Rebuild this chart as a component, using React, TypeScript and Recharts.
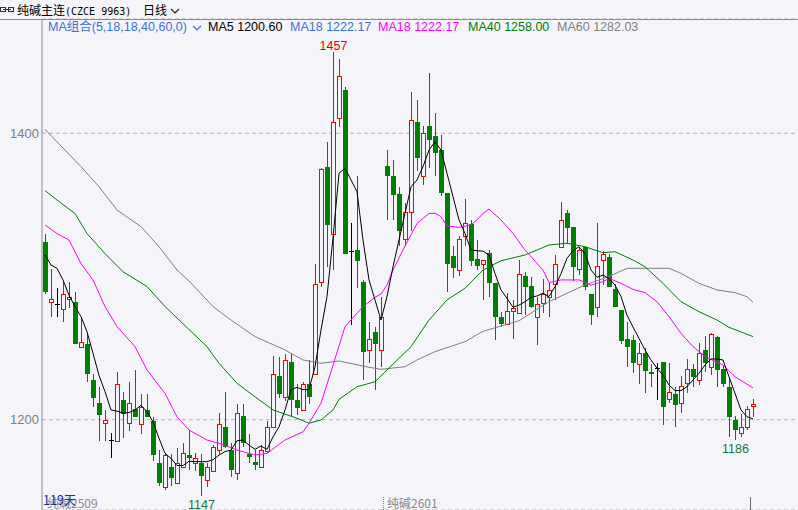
import React from 'react';
import { ComposedChart, Bar, Line, XAxis, YAxis, CartesianGrid } from 'recharts';

// daily candles, oldest first (contract rolls from 2509 to 2601 at index 57)
const OPEN = [
  1324, 1282, 1281, 1277, 1284, 1282, 1251, 1253, 1228, 1212,
  1198, 1186, 1185, 1214, 1198, 1207.5, 1197, 1207, 1199, 1170,
  1153, 1167, 1156, 1167, 1175, 1170, 1170, 1158, 1164, 1179,
  1195, 1179, 1163, 1202.6, 1176, 1170.5, 1167, 1178, 1195, 1230.5,
  1215.6, 1240, 1214, 1207, 1225, 1232, 1296, 1376.7, 1330, 1411,
  1430, 1318, 1318.5, 1296, 1249, 1261, 1249, 1377, 1370, 1357.6,
  1326, 1345, 1407.7, 1370, 1405, 1398, 1388, 1358.5, 1314, 1304.5,
  1328, 1336.7, 1312, 1308.5, 1316.6, 1295.7, 1272, 1267, 1276, 1274.7,
  1300.3, 1293.4, 1271.5, 1281.3, 1285.5, 1294.8, 1320.4, 1344, 1334.4, 1305,
  1320.4, 1287.8, 1278.5, 1311.5, 1313.4, 1291, 1276.6, 1256, 1255.7, 1238.9,
  1246.8, 1233, 1235.9, 1240, 1214.2, 1218, 1211.5, 1225.4, 1235.2, 1227.7,
  1248.7, 1236.6, 1258, 1235.2, 1223, 1199.8, 1190.5, 1194.7, 1209.6,
];
const HIGH = [
  1330, 1305, 1292, 1296, 1296, 1289, 1272, 1260, 1232, 1223,
  1207, 1190.5, 1233, 1219, 1226, 1234.5, 1218, 1218, 1202, 1179,
  1177, 1176, 1180, 1184, 1193, 1177, 1176, 1170, 1182, 1205,
  1219, 1184, 1211, 1211, 1190, 1179, 1182, 1199, 1244.5, 1244,
  1246, 1246, 1225, 1226.5, 1241.7, 1309, 1376, 1393.7, 1457, 1452,
  1432.6, 1337, 1370, 1297.5, 1268.4, 1265, 1286, 1388, 1381, 1362.7,
  1351, 1428.6, 1423, 1405, 1442, 1414, 1399, 1358.5, 1321, 1328,
  1354, 1339.5, 1325.5, 1311.5, 1318.5, 1295.7, 1275.4, 1288.7, 1283.6, 1311.5,
  1303, 1299.4, 1286, 1298, 1295.7, 1315, 1352, 1346.4, 1334.4, 1320.4,
  1320.4, 1287.8, 1337, 1318, 1315.7, 1294.8, 1276.6, 1268.4, 1259, 1253.4,
  1249.9, 1238.9, 1239.8, 1240, 1239.4, 1223, 1230.5, 1242.2, 1238.9, 1253.4,
  1258.4, 1260.8, 1258.4, 1237.5, 1230, 1202.6, 1204, 1209.6, 1214.2,
];
const LOW = [
  1288, 1272, 1272, 1268, 1278, 1253, 1251, 1226, 1209, 1185,
  1185, 1173, 1185, 1187, 1192, 1202, 1190, 1202, 1171, 1154,
  1151, 1154, 1156, 1167, 1165, 1164, 1147, 1153, 1164, 1176,
  1180, 1160, 1158, 1181, 1170, 1165, 1167, 1176.5, 1195, 1215,
  1213, 1202, 1203, 1207, 1211, 1232, 1292.5, 1306.6, 1304.5, 1404.6,
  1316, 1266, 1292, 1228, 1239.4, 1221, 1237, 1339.5, 1339.5, 1321,
  1321, 1332, 1374, 1364, 1375.5, 1370, 1356, 1289, 1299, 1300,
  1321, 1307, 1304.5, 1283.6, 1285.5, 1255.7, 1265, 1267, 1256, 1274.7,
  1273, 1277.8, 1252, 1274.7, 1271.5, 1283.6, 1320, 1323, 1297, 1301,
  1290.6, 1266, 1271.5, 1294, 1292.9, 1278.5, 1253, 1237, 1232.8, 1225,
  1218.4, 1223, 1213.8, 1196.3, 1211.9, 1194.7, 1204.9, 1218.4, 1223, 1224.2,
  1233.5, 1231.2, 1223, 1222.6, 1188, 1186, 1188.1, 1192.8, 1201.7,
];
const CLOSE = [
  1289, 1284, 1281, 1288, 1286, 1253, 1254, 1232, 1215, 1203.5,
  1200, 1186, 1225, 1204, 1212, 1202, 1209, 1202, 1175, 1156,
  1175, 1159.5, 1170, 1176.5, 1173, 1173.5, 1161, 1167, 1181, 1197,
  1181, 1165, 1205, 1183.5, 1174, 1168.6, 1179, 1195, 1232, 1218,
  1241.7, 1214, 1208, 1225, 1216, 1295, 1375, 1336, 1408, 1440,
  1316, 1318, 1311, 1247, 1256, 1253, 1271.5, 1370, 1357, 1332,
  1345, 1409, 1383, 1400, 1395, 1386, 1358, 1309, 1306, 1326,
  1337, 1311, 1307, 1311.5, 1295.7, 1271.5, 1267, 1276, 1277.8, 1302,
  1293, 1278.5, 1281, 1287.8, 1290.6, 1308.7, 1339.5, 1334, 1306.4, 1318.5,
  1292.9, 1273, 1307.3, 1315.7, 1292.9, 1278.5, 1255, 1250.6, 1239.8, 1246.8,
  1234.2, 1232, 1235.9, 1209, 1219.1, 1210.3, 1223.5, 1235.2, 1229.6, 1246.4,
  1239.4, 1259.8, 1234.7, 1225, 1202, 1192.8, 1195.1, 1207.3, 1211,
];

// moving averages
const MA5 = [
  1315, 1308, 1305.7, 1297.6, 1287, 1279, 1272, 1261.5, 1246.4, 1231,
  1219.6, 1206.8, 1206, 1204.5, 1205, 1206.8, 1210, 1205.6, 1198.6, 1187,
  1176.5, 1173, 1168, 1168, 1171, 1170.7, 1170.7, 1170.7, 1172, 1175.3,
  1177.7, 1178.8, 1185.3, 1185.8, 1182.3, 1179.3, 1181.6, 1179.3, 1188, 1195,
  1206.8, 1221, 1222.6, 1221, 1221, 1237, 1262.6, 1286, 1327, 1372,
  1375.6, 1367.4, 1359.2, 1325.5, 1297.6, 1283.6, 1269.6, 1286, 1306.8, 1325.5,
  1344, 1362.7, 1367.4, 1376.7, 1388.3, 1394, 1388.3, 1372, 1355.7, 1339.5,
  1330, 1318.5, 1318, 1317.7, 1315, 1302, 1290.6, 1284.8, 1278.5, 1280,
  1282.4, 1285.5, 1286.4, 1288.3, 1286, 1292.9, 1302, 1312.7, 1318, 1320.8,
  1316, 1304.5, 1299.4, 1301, 1298.7, 1294, 1286, 1273, 1264.7, 1256.8,
  1248.7, 1241.7, 1235.9, 1231.2, 1224.2, 1220.3, 1220.3, 1223, 1227.7, 1232.4,
  1238.2, 1242.4, 1242.4, 1241.7, 1230, 1218.4, 1206.8, 1202.1, 1200.6,
];
// [candle index, value]
const MA18_PTS = [
  [0, 1336], [2, 1330], [4, 1325.5], [6, 1309], [8, 1297.6], [10, 1279], [12, 1265], [15, 1251],
  [17, 1234.7], [20, 1218.4], [22, 1202], [24, 1192.8], [27, 1185.8], [29, 1183.5], [32, 1178.8],
  [35, 1175.3], [37, 1176.5], [40, 1185.8], [43, 1191.6], [44, 1197.5], [46, 1211.5], [48, 1238],
  [49, 1251.5], [50, 1265], [53, 1279], [55, 1285.5], [56, 1287.8], [57, 1294], [58, 1304.5],
  [60, 1321.3], [62, 1337], [64, 1344], [65, 1344.2], [66, 1341.8], [67, 1335.3], [69, 1334.3],
  [71, 1336], [72, 1339.5], [73, 1344], [74, 1347], [76, 1339.5], [78, 1330], [80, 1318.5],
  [83, 1304.5], [84, 1295.7], [86, 1297.6], [89, 1297.6], [91, 1294], [93, 1296.4], [94, 1298.7],
  [96, 1295.2], [98, 1291], [100, 1288.7], [102, 1282.4], [104, 1272], [106, 1260.3], [108, 1251],
  [110, 1244], [113, 1238.2], [115, 1230], [118, 1222.17],
];
const MA40_PTS = [
  [0, 1360], [2, 1353.4], [5, 1344], [7, 1330], [10, 1316], [13, 1303.3], [17, 1293], [20, 1279],
  [24, 1263], [27, 1251], [29, 1239.4], [32, 1225.4], [35, 1216], [38, 1206.8], [42, 1201],
  [44, 1197.5], [46, 1199.8], [48, 1206.8], [49, 1214.2], [52, 1223], [55, 1226.5], [57, 1234.7],
  [61, 1251], [64, 1269.6], [67, 1283.6], [70, 1291.8], [73, 1304.5], [76, 1311], [80, 1315],
  [84, 1322], [87, 1323.2], [90, 1320.8], [93, 1316.6], [95, 1317.3], [98, 1311.5], [100, 1306.8],
  [103, 1295.2], [106, 1282.4], [109, 1275.4], [112, 1269.6], [114, 1264.5], [118, 1258],
];
const MA60_PTS = [
  [0, 1402.8], [2, 1394], [6, 1376.7], [9, 1362.7], [12, 1346.4], [16, 1334.8], [19, 1320.8],
  [22, 1304.5], [24, 1296.9], [28, 1279], [31, 1269.6], [35, 1258], [40, 1248.7], [43, 1241.7],
  [46, 1239.4], [49, 1241], [54, 1236.6], [56, 1235.2], [60, 1237], [62, 1241.7], [65, 1247.5],
  [70, 1254.5], [73, 1261.7], [79, 1269.1], [84, 1282.4], [90, 1294.1], [94, 1300], [97, 1305.7],
  [104, 1305.7], [106, 1302.2], [109, 1295.2], [112, 1290.6], [115, 1288.7], [117, 1285.9],
  [118, 1282.03],
];

const Y_TICKS = [1200, 1400];
const Y_MIN = 1136.94;
const Y_MAX = 1479.8;

// extreme labels: index, which end of the candle
const MARKS = [
  { i: 48, side: 'top' },
  { i: 26, side: 'bottom' },
  { i: 115, side: 'bottom' },
];

const LEGEND = [
  { text: 'MA5 1200.60', color: '#000000', left: 208 },
  { text: 'MA18 1222.17', color: '#3f6fe6', left: 290 },
  { text: 'MA18 1222.17', color: '#ff00ff', left: 378 },
  { text: 'MA40 1258.00', color: '#008000', left: 468 },
  { text: 'MA60 1282.03', color: '#808080', left: 557 },
];

const BG = '#f4f4f9';
const UP = '#ff0000';
const DOWN = '#008000';
const LATIN = '"Liberation Sans", "Noto Sans CJK SC", sans-serif';
const CJK = '"Noto Sans CJK SC", "Liberation Sans", sans-serif';

const rows = OPEN.map((o, i) => ({
  i,
  o,
  h: HIGH[i],
  l: LOW[i],
  c: CLOSE[i],
  range: [LOW[i], HIGH[i]],
  ma5: MA5[i],
  ma18: null as number | null,
  ma40: null as number | null,
  ma60: null as number | null,
}));
MA18_PTS.forEach(([i, v]) => (rows[i].ma18 = v));
MA40_PTS.forEach(([i, v]) => (rows[i].ma40 = v));
MA60_PTS.forEach(([i, v]) => (rows[i].ma60 = v));

const Candle = (props: any) => {
  const { x, y, width, height, payload } = props;
  if (!payload || x == null) return null;
  const { o, h, l, c, i } = payload;
  const top = Math.min(y, y + height);
  const span = Math.abs(height);
  const px = (v: number) => top + ((h - v) / (h - l || 1)) * span;
  const cx = Math.floor(x + width / 2) + 0.5;
  const yH = Math.round(px(h));
  const yL = Math.round(px(l));
  const mark = MARKS.find(m => m.i === i);
  let body: React.ReactNode;
  let color: string;
  if (c > o) {
    color = UP;
    const t = Math.round(px(c));
    const b = Math.round(px(o));
    body = (
      <rect x={cx - 2} y={t + 0.5} width={4} height={Math.max(1, b - t)} fill={BG} stroke={UP} strokeWidth={1} />
    );
  } else if (c < o) {
    color = DOWN;
    const t = Math.round(px(o));
    const b = Math.round(px(c));
    body = <rect x={cx - 2.5} y={t} width={5} height={Math.max(1, b - t)} fill={DOWN} />;
  } else {
    color = '#000000';
    const t = Math.round(px(o)) + 0.5;
    body = <line x1={cx - 2.5} x2={cx + 2.5} y1={t} y2={t} stroke="#000" strokeWidth={1} />;
  }
  return (
    <g shapeRendering="crispEdges">
      <line x1={cx} x2={cx} y1={yH} y2={yL} stroke={color} strokeWidth={1} />
      {body}
      {mark && (
        <text
          x={cx}
          y={mark.side === 'top' ? yH - 2 : yL + 12.5}
          textAnchor="middle"
          fontSize={12.5}
          fontFamily={LATIN}
          fill={mark.side === 'top' ? '#f00000' : '#0f7a45'}
          shapeRendering="auto"
        >
          {mark.side === 'top' ? h : l}
        </text>
      )}
    </g>
  );
};

const Chevron = ({ left, top, color }: { left: number; top: number; color: string }) => (
  <svg width={10} height={6} style={{ position: 'absolute', left, top }}>
    <polyline points="1,1 5,5 9,1" fill="none" stroke={color} strokeWidth={1.2} />
  </svg>
);

const App: React.FC = () => {
  return (
    <div style={{ position: 'absolute', left: 0, top: 0, width: 798, height: 510, background: BG, overflow: 'hidden' }}>
      <ComposedChart
        width={798}
        height={510}
        data={rows}
        margin={{ top: 19, right: 0, bottom: 0, left: 0 }}
        barSize={5}
      >
        <CartesianGrid vertical={false} stroke="#b4b4b4" strokeDasharray="4 3" />
        <XAxis dataKey="i" type="category" hide padding={{ left: 0, right: 42 }} />
        <YAxis
          type="number"
          width={42}
          domain={[Y_MIN, Y_MAX]}
          ticks={Y_TICKS}
          interval={0}
          allowDataOverflow
          axisLine={{ stroke: '#8c8c8c' }}
          tickLine={false}
          tickSize={0}
          tickMargin={3}
          tick={{ fill: '#7f7f7f', fontSize: 13, fontFamily: LATIN }}
        />
        <Bar dataKey="range" isAnimationActive={false} shape={(p: any) => <Candle {...p} />} />
        <Line dataKey="ma60" stroke="#808080" strokeWidth={1} dot={false} connectNulls isAnimationActive={false} />
        <Line dataKey="ma40" stroke="#008000" strokeWidth={1} dot={false} connectNulls isAnimationActive={false} />
        <Line dataKey="ma18" stroke="#ff00ff" strokeWidth={1} dot={false} connectNulls isAnimationActive={false} />
        <Line dataKey="ma5" stroke="#000000" strokeWidth={1} dot={false} isAnimationActive={false} />
      </ComposedChart>

      {/* title bar */}
      <svg width={16} height={19} style={{ position: 'absolute', left: 0, top: 0 }}>
        <rect x={0.5} y={7.5} width={5} height={4} fill="none" stroke="#333" />
        <rect x={8.5} y={7.5} width={5} height={4} fill="none" stroke="#333" />
        <line x1={3} x2={11} y1={9.5} y2={9.5} stroke="#333" />
      </svg>
      <div style={{ position: 'absolute', left: 17, top: 2, fontSize: 12, lineHeight: '16px', color: '#000', whiteSpace: 'nowrap' }}>
        <span style={{ fontFamily: CJK }}>纯碱主连</span>
        <span style={{ fontFamily: '"DejaVu Sans Mono", monospace', fontSize: 10 }}>(CZCE 9963)</span>
      </div>
      <div style={{ position: 'absolute', left: 143, top: 2, fontSize: 12, lineHeight: '16px', fontFamily: CJK, color: '#000' }}>
        日线
      </div>
      <Chevron left={170} top={8} color="#222" />
      <div style={{ position: 'absolute', left: 0, top: 19, width: 798, height: 1, background: '#8c8c8c' }} />

      {/* MA legend row */}
      <div style={{ position: 'absolute', left: 48, top: 20, fontSize: 12.5, lineHeight: '15px', fontFamily: LATIN, color: '#3f6fe6', whiteSpace: 'nowrap' }}>
        MA组合(5,18,18,40,60,0)
      </div>
      <Chevron left={192} top={25} color="#3f6fe6" />
      {LEGEND.map((d, k) => (
        <div
          key={k}
          style={{ position: 'absolute', left: d.left, top: 20, fontSize: 12.5, lineHeight: '15px', fontFamily: LATIN, color: d.color, whiteSpace: 'nowrap' }}
        >
          {d.text}
        </div>
      ))}

      {/* bottom strip: contract names and day count */}
      <div style={{ position: 'absolute', left: 47, top: 495, fontSize: 12, lineHeight: '15px', fontFamily: CJK, color: '#8a8a8a', whiteSpace: 'nowrap' }}>
        纯碱2509
      </div>
      <div style={{ position: 'absolute', left: 43, top: 492, fontSize: 12.5, lineHeight: '15px', fontFamily: CJK, color: '#1e2aa8', whiteSpace: 'nowrap' }}>
        119天
      </div>
      <svg width={4} height={14} style={{ position: 'absolute', left: 382, top: 497 }}>
        <line x1={1.5} x2={1.5} y1={0} y2={14} stroke="#888" strokeDasharray="1 1" />
      </svg>
      <div style={{ position: 'absolute', left: 387, top: 495, fontSize: 12, lineHeight: '15px', fontFamily: CJK, color: '#8a8a8a', whiteSpace: 'nowrap' }}>
        纯碱2601
      </div>
      <div style={{ position: 'absolute', left: 750, top: 497, width: 1, height: 13, background: '#666' }} />
    </div>
  );
};

export default App;
